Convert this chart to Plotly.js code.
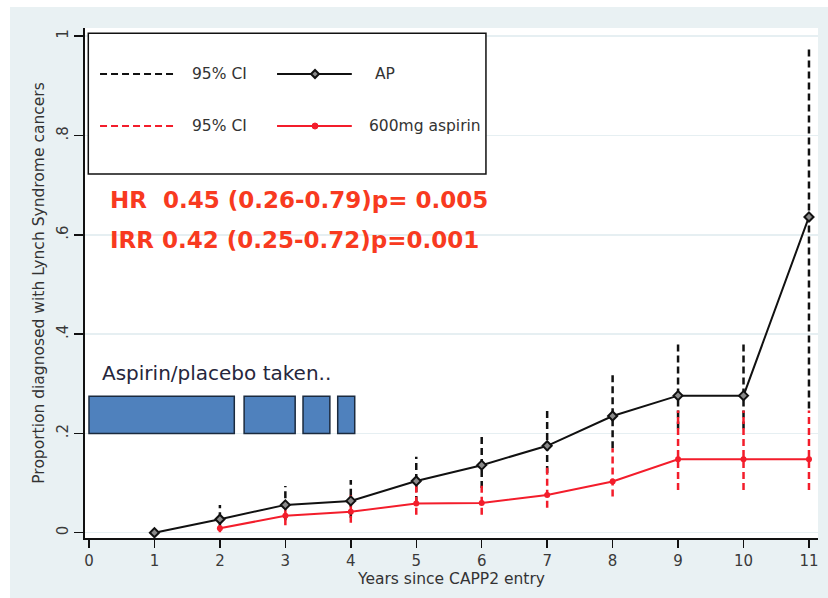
<!DOCTYPE html>
<html>
<head>
<meta charset="utf-8">
<script src="https://cdn.plot.ly/plotly-3.0.1.min.js"></script>
<style>html,body{margin:0;padding:0;background:#fff;}#chart{width:828px;height:598px;}</style>
</head>
<body>
<div id="chart"></div>
<script>
// ---- data ----
const years = [1, 2, 3, 4, 5, 6, 7, 8, 9, 10, 11];
const apProp = [0, 0.027, 0.056, 0.064, 0.104, 0.136, 0.175, 0.235, 0.276, 0.276, 0.636];
const apLo = [null, 0.005, 0.025, 0.030, 0.060, 0.090, 0.120, 0.170, 0.210, 0.210, 0.250];
const apHi = [null, 0.056, 0.094, 0.106, 0.153, 0.195, 0.246, 0.318, 0.382, 0.382, 0.980];

const aspYears = [2, 3, 4, 5, 6, 7, 8, 9, 10, 11];
const aspProp = [0.009, 0.034, 0.042, 0.059, 0.060, 0.076, 0.103, 0.148, 0.148, 0.148];
const aspLo = [0.001, 0.015, 0.020, 0.036, 0.036, 0.050, 0.073, 0.086, 0.086, 0.086];
const aspHi = [0.030, 0.052, 0.076, 0.096, 0.098, 0.133, 0.170, 0.246, 0.246, 0.246];

const takenStart = [0, 2.37, 3.27, 3.80];
const takenEnd = [2.22, 3.15, 3.68, 4.06];
const takenLevel = 0.2375;
const takenHeight = 0.075;

const xTicks = [0, 1, 2, 3, 4, 5, 6, 7, 8, 9, 10, 11];
const yTicks = [0, 0.2, 0.4, 0.6, 0.8, 1];
const yTickText = ['0', '.2', '.4', '.6', '.8', '1'];

const legendCI = '95% CI';
const nameAP = 'AP';
const nameAsp = '600mg aspirin';
const statHR = 'HR\u00a0\u00a00.45 (0.26-0.79)p= 0.005';
const statIRR = 'IRR 0.42 (0.25-0.72)p=0.001';
const takenLabel = 'Aspirin/placebo taken..';

// ---- helpers ----
function segments(xs, lo, hi) {
  const x = [], y = [];
  for (let i = 0; i < xs.length; i++) {
    if (lo[i] === null || hi[i] === null) continue;
    x.push(xs[i], xs[i], null);
    y.push(lo[i], hi[i], null);
  }
  return {x, y};
}
const apCI = segments(years, apLo, apHi);
const aspCI = segments(aspYears, aspLo, aspHi);

const RED = '#f31d2b';
const DASH = '7px,4px';
const FONT = 'DejaVu Sans';

const traces = [
  {
    type: 'bar', orientation: 'h',
    y: takenStart.map(() => takenLevel),
    base: takenStart,
    x: takenStart.map((s, i) => takenEnd[i] - s),
    width: takenStart.map(() => takenHeight),
    marker: {color: '#4f81bd', line: {color: '#1b2a3e', width: 1.5}},
    showlegend: false, hoverinfo: 'skip'
  },
  {
    type: 'scatter', mode: 'lines', x: apCI.x, y: apCI.y,
    line: {color: '#111', width: 2.5, dash: DASH},
    showlegend: false, hoverinfo: 'skip', connectgaps: false
  },
  {
    type: 'scatter', mode: 'lines', x: aspCI.x, y: aspCI.y,
    line: {color: RED, width: 2.5, dash: DASH},
    showlegend: false, hoverinfo: 'skip', connectgaps: false
  },
  {
    type: 'scatter', mode: 'lines+markers', x: years, y: apProp, name: nameAP,
    line: {color: '#111', width: 2},
    marker: {symbol: 'diamond', size: 7, color: '#8a8a8a', line: {color: '#111', width: 2}},
    showlegend: false
  },
  {
    type: 'scatter', mode: 'lines+markers', x: aspYears, y: aspProp, name: nameAsp,
    line: {color: RED, width: 2},
    marker: {symbol: 'circle', size: 6, color: RED},
    showlegend: false
  }
];

// legend geometry (paper fractions)
const LX0 = 0.0045, LX1 = 0.547, LY0 = 0.7137, LY1 = 0.9896;
const ROW1 = 0.9098, ROW2 = 0.8078;

const shapes = [
  {type: 'rect', xref: 'paper', yref: 'paper', x0: -0.2, x1: -0.1023, y0: -0.3, y1: 1.2, fillcolor: '#fff', line: {width: 0}, layer: 'below'},
  {type: 'rect', xref: 'paper', yref: 'paper', x0: -0.2, x1: 1.2, y0: 1.0412, y1: 1.2, fillcolor: '#fff', line: {width: 0}, layer: 'below'},
  {type: 'rect', xref: 'paper', yref: 'paper', x0: LX0, x1: LX1, y0: LY0, y1: LY1, fillcolor: '#fff', line: {color: '#111', width: 1.5}, layer: 'above'},
  {type: 'line', xref: 'paper', yref: 'paper', x0: 0.0205, x1: 0.1228, y0: ROW1, y1: ROW1, line: {color: '#111', width: 2, dash: DASH}, layer: 'above'},
  {type: 'line', xref: 'paper', yref: 'paper', x0: 0.0205, x1: 0.1228, y0: ROW2, y1: ROW2, line: {color: RED, width: 2, dash: DASH}, layer: 'above'},
  {type: 'line', xref: 'paper', yref: 'paper', x0: 0.262, x1: 0.364, y0: ROW1, y1: ROW1, line: {color: '#111', width: 2}, layer: 'above'},
  {type: 'line', xref: 'paper', yref: 'paper', x0: 0.262, x1: 0.364, y0: ROW2, y1: ROW2, line: {color: RED, width: 2}, layer: 'above'},
  {type: 'path', xref: 'paper', yref: 'paper', xsizemode: 'pixel', ysizemode: 'pixel', xanchor: 0.3138, yanchor: ROW1,
   path: 'M -4 0 L 0 4 L 4 0 L 0 -4 Z', fillcolor: '#8a8a8a', line: {color: '#111', width: 2}, layer: 'above'},
  {type: 'circle', xref: 'paper', yref: 'paper', xsizemode: 'pixel', ysizemode: 'pixel', xanchor: 0.3138, yanchor: ROW2,
   x0: -3, x1: 3, y0: -3, y1: 3, fillcolor: RED, line: {color: RED, width: 1}, layer: 'above'}
];

const annotations = [
  {xref: 'paper', yref: 'paper', x: 0.1432, y: ROW1, xanchor: 'left', yanchor: 'middle', showarrow: false, text: legendCI, font: {family: FONT, size: 15.5, color: '#333'}},
  {xref: 'paper', yref: 'paper', x: 0.1432, y: ROW2, xanchor: 'left', yanchor: 'middle', showarrow: false, text: legendCI, font: {family: FONT, size: 15.5, color: '#333'}},
  {xref: 'paper', yref: 'paper', x: 0.393, y: ROW1, xanchor: 'left', yanchor: 'middle', showarrow: false, text: nameAP, font: {family: FONT, size: 15.5, color: '#333'}},
  {xref: 'paper', yref: 'paper', x: 0.385, y: ROW2, xanchor: 'left', yanchor: 'middle', showarrow: false, text: nameAsp, font: {family: FONT, size: 15.5, color: '#333'}},
  {xref: 'paper', yref: 'paper', x: 0.0314, y: 0.6627, xanchor: 'left', yanchor: 'middle', showarrow: false, text: statHR, font: {family: FONT, size: 23, color: '#f83a20', weight: 'bold'}},
  {xref: 'paper', yref: 'paper', x: 0.0314, y: 0.5843, xanchor: 'left', yanchor: 'middle', showarrow: false, text: statIRR, font: {family: FONT, size: 23, color: '#f83a20', weight: 'bold'}},
  {xref: 'paper', yref: 'paper', x: 0.0205, y: 0.3235, xanchor: 'left', yanchor: 'middle', showarrow: false, text: takenLabel, font: {family: FONT, size: 20, color: '#26263c'}}
];

const layout = {
  width: 828, height: 598,
  margin: {l: 85, r: 10, t: 28, b: 60, pad: 0},
  paper_bgcolor: '#e9f1f3',
  plot_bgcolor: '#ffffff',
  showlegend: false,
  bargap: 0,
  xaxis: {
    range: [-0.061, 11.138], tickvals: xTicks, ticktext: xTicks.map(String),
    ticks: 'outside', ticklen: 8, tickwidth: 1.5, tickcolor: '#111',
    showline: true, linecolor: '#111', linewidth: 2,
    showgrid: false, zeroline: false,
    tickfont: {family: FONT, size: 15, color: '#3a3a3a'},
    title: {text: 'Years since CAPP2 entry', font: {family: FONT, size: 15.5, color: '#333'}, standoff: 2}
  },
  yaxis: {
    range: [-0.0107, 1.0165], tickvals: yTicks, ticktext: yTickText, tickangle: -90,
    ticks: 'outside', ticklen: 9, tickwidth: 1.5, tickcolor: '#111',
    showline: true, linecolor: '#111', linewidth: 2,
    showgrid: true, gridcolor: '#e6eff2', gridwidth: 1.5, zeroline: false,
    tickfont: {family: FONT, size: 15, color: '#3a3a3a'},
    title: {text: 'Proportion diagnosed with Lynch Syndrome cancers', font: {family: FONT, size: 15.5, color: '#333'}, standoff: 6}
  },
  shapes: shapes,
  annotations: annotations
};

Plotly.newPlot('chart', traces, layout, {staticPlot: true, displayModeBar: false});
</script>
</body>
</html>
